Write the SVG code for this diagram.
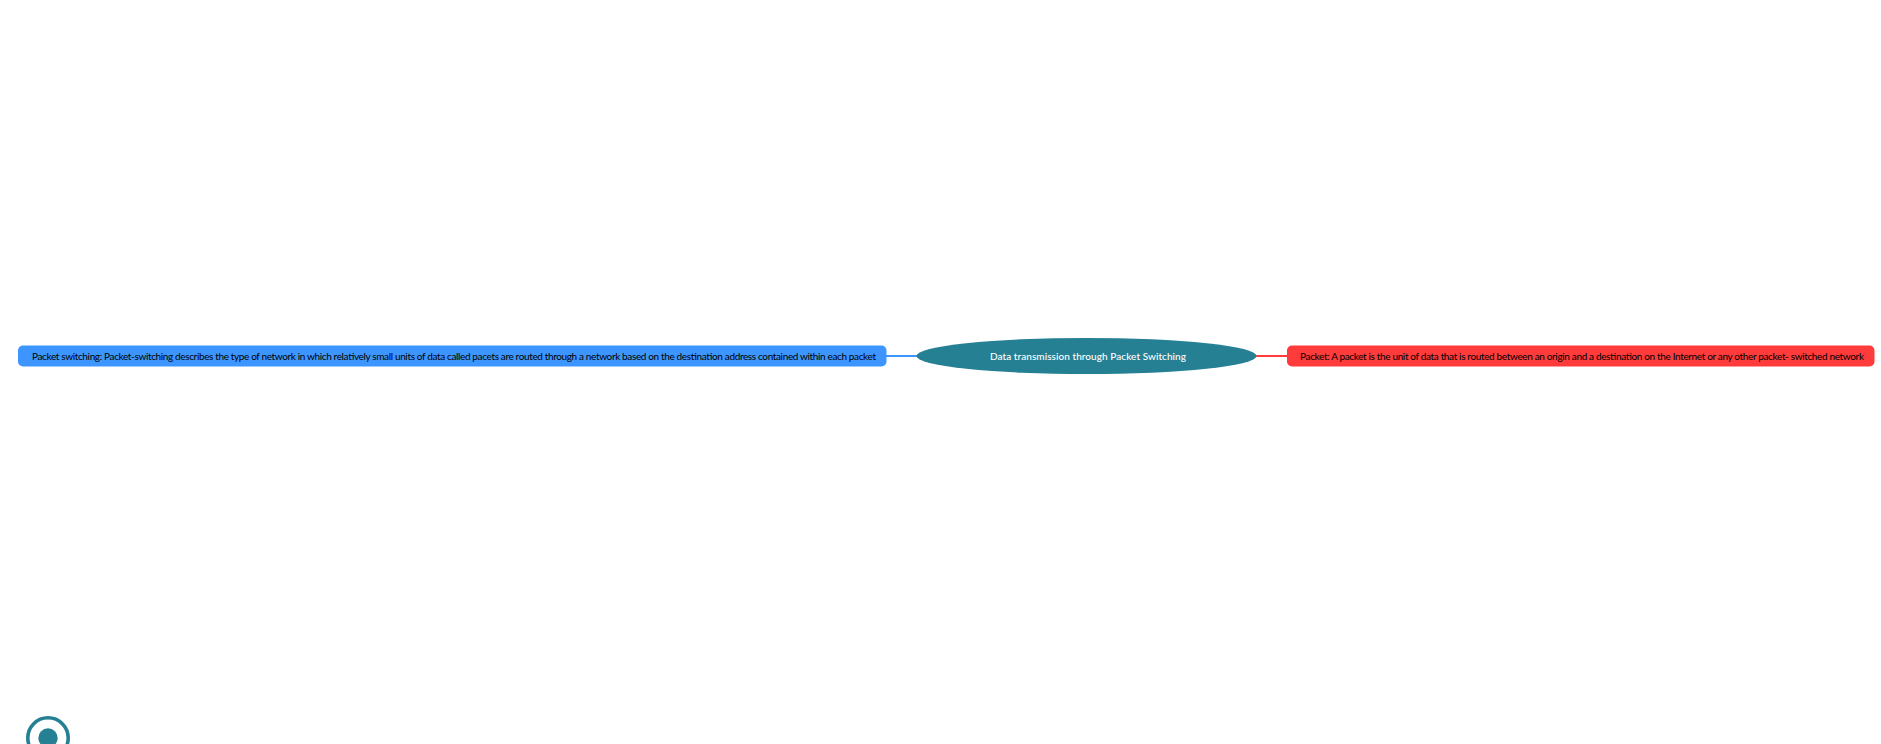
<svg xmlns="http://www.w3.org/2000/svg" width="1881" height="744" viewBox="0 0 1881 744">
<style>
text{font-family:"Lato","Noto Sans","Liberation Sans",sans-serif;font-size:10px;fill:#000}
.edge{fill:none;stroke-width:2}
</style>
<rect width="1881" height="744" fill="#fff"/>
<g id="connectors">
<line class="edge" x1="886" y1="356" x2="918" y2="356" stroke="#3d96ff"/>
<line class="edge" x1="1255" y1="356" x2="1288" y2="356" stroke="#ff3b3b"/>
</g>
<g id="node-left">
<rect x="18" y="345.5" width="868.5" height="21" rx="5" fill="#3d96ff"/>
<text x="32" y="359.6" textLength="844">Packet switching: Packet-switching describes the type of network in which relatively small units of data called pacets are routed through a network based on the destination address contained within each packet</text>
</g>
<g id="node-center">
<ellipse cx="1086.5" cy="356" rx="170" ry="18" fill="#268093"/>
<text x="990" y="359.6" textLength="196" style="fill:#fff;font-weight:500">Data transmission through Packet Switching</text>
</g>
<g id="node-right">
<rect x="1287" y="345.5" width="587.5" height="21" rx="5" fill="#ff3b3b"/>
<text x="1300" y="359.6" textLength="564">Packet: A packet is the unit of data that is routed between an origin and a destination on the Internet or any other packet- switched network</text>
</g>
<g id="icon">
<circle cx="48" cy="738" r="20.2" fill="none" stroke="#268093" stroke-width="3.6"/>
<circle cx="48" cy="738" r="9.7" fill="#268093"/>
</g>
</svg>
